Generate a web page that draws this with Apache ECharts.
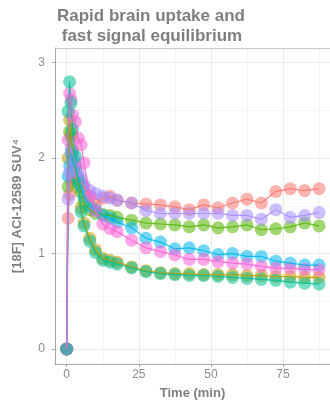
<!DOCTYPE html>
<html><head><meta charset="utf-8">
<script src="https://cdn.jsdelivr.net/npm/echarts@6/dist/echarts.min.js"></script>
<style>html,body{margin:0;padding:0;background:#fff}#c{width:330px;height:405px}</style>
</head><body><div id="c"></div>
<script>
const titleText = "Rapid brain uptake and\n fast signal equilibrium";
const xName = "Time (min)";
const yName = "[18F] ACI-12589 SUV\u2074";
const times = [0, 0.5, 1, 1.5, 2, 3, 4, 5, 6, 8, 10, 12.5, 15, 17.5, 22.5, 27.5, 32.5, 37.5, 42.5, 47.5, 52.5, 57.5, 62.5, 67.5, 72.5, 77.5, 82.5, 87.5];
const xMajorTicks = [0, 25, 50, 75];
const xMinorTicks = [12.5, 37.5, 62.5, 87.5];
const yMajorTicks = [0, 1, 2, 3];
const yMinorTicks = [0.5, 1.5, 2.5];
const seriesNames = ["s1", "s2", "s3", "s5", "s6", "s7", "s4"];
const colors = ["#F8766D", "#C49A00", "#53B400", "#00B6EB", "#A58AFF", "#FB61D7", "#00C094"];
const red    = [0, 1.37, 1.62, 1.76, 1.80, 1.79, 1.77, 1.74, 1.70, 1.60, 1.52, 1.58, 1.60, 1.56, 1.53, 1.52, 1.51, 1.49, 1.46, 1.51, 1.48, 1.53, 1.57, 1.53, 1.65, 1.68, 1.66, 1.68];
const olive  = [0, 2.00, 2.40, 2.25, 2.08, 1.88, 1.70, 1.48, 1.32, 1.16, 1.04, 0.95, 0.93, 0.91, 0.86, 0.82, 0.80, 0.79, 0.79, 0.78, 0.78, 0.78, 0.77, 0.77, 0.76, 0.76, 0.75, 0.75];
const green  = [0, 1.70, 2.28, 2.22, 2.08, 1.92, 1.78, 1.64, 1.54, 1.46, 1.42, 1.41, 1.40, 1.38, 1.35, 1.32, 1.31, 1.30, 1.28, 1.30, 1.27, 1.28, 1.30, 1.25, 1.26, 1.28, 1.32, 1.29];
const cyan   = [0, 1.81, 1.92, 2.05, 2.00, 1.90, 1.80, 1.70, 1.60, 1.50, 1.46, 1.40, 1.37, 1.33, 1.27, 1.16, 1.12, 1.05, 1.06, 1.03, 0.99, 1.00, 0.97, 0.97, 0.92, 0.90, 0.88, 0.88];
const purple = [0, 1.57, 1.85, 2.10, 2.05, 1.96, 1.87, 1.79, 1.72, 1.66, 1.63, 1.60, 1.58, 1.56, 1.53, 1.45, 1.42, 1.42, 1.42, 1.42, 1.42, 1.40, 1.40, 1.36, 1.46, 1.38, 1.40, 1.43];
const pink   = [0, 2.19, 2.68, 2.61, 2.45, 2.38, 2.21, 2.14, 1.95, 1.60, 1.45, 1.31, 1.26, 1.23, 1.14, 1.06, 1.02, 0.985, 0.94, 0.94, 0.915, 0.90, 0.89, 0.865, 0.845, 0.845, 0.835, 0.83];
const teal   = [0, 2.49, 2.80, 2.58, 2.30, 2.02, 1.74, 1.44, 1.29, 1.13, 1.01, 0.93, 0.91, 0.89, 0.85, 0.81, 0.79, 0.78, 0.77, 0.77, 0.76, 0.75, 0.74, 0.73, 0.72, 0.70, 0.69, 0.68];
const allValues = [red, olive, green, cyan, purple, pink, teal];

const chart = echarts.init(document.getElementById('c'), null, {renderer: 'canvas'});
const FONT = 'Liberation Sans, Arial, sans-serif';
const xMin = -4.06, xMax = 91.3, yMin = -0.157, yMax = 3.154;
const series = [];
allValues.forEach((vals, k) => {
  const data = times.map((t, i) => [t, vals[i]]);
  series.push({
    name: seriesNames[k], type: 'scatter', data: data, symbolSize: 13, z: 2,
    itemStyle: {color: colors[k], opacity: 0.55}, silent: true
  });
});
[0, 1, 2, 6, 3, 4, 5].forEach(k => {
  const vals = allValues[k];
  const data = times.map((t, i) => [t, vals[i]]);
  series.push({
    name: seriesNames[k] + '_l', type: 'line', data: data, showSymbol: false, z: 3,
    lineStyle: {color: colors[k], width: 1.2, opacity: 0.85}, silent: true
  });
});
chart.setOption({
  animation: false,
  backgroundColor: '#fff',
  title: {
    text: titleText, left: 52, top: 1,
    textStyle: {fontFamily: FONT, fontSize: 17, fontWeight: 'bold', color: '#7f7f7f', lineHeight: 20}
  },
  grid: {left: 55, right: 0, top: 48, bottom: 41, containLabel: false},
  xAxis: [{
    type: 'value', min: xMin, max: xMax, position: 'bottom',
    name: xName, nameLocation: 'middle', nameGap: 23,
    nameTextStyle: {fontFamily: FONT, fontSize: 13, fontWeight: 'bold', color: '#7f7f7f'},
    axisLine: {show: true, onZero: false, lineStyle: {color: '#a6a6a6', width: 1}},
    axisTick: {show: true, length: 3, customValues: xMajorTicks, lineStyle: {color: '#a6a6a6'}},
    axisLabel: {customValues: xMajorTicks, margin: 5, fontFamily: FONT, fontSize: 12, color: '#8c8c8c'},
    splitLine: {show: true, lineStyle: {color: '#ebebeb', width: 1}}
  }, {
    type: 'value', min: xMin, max: xMax, position: 'top',
    axisLine: {show: true, onZero: false, lineStyle: {color: '#c8c8c8', width: 1}},
    axisTick: {show: false, customValues: xMinorTicks},
    axisLabel: {show: false, customValues: xMinorTicks},
    splitLine: {show: true, lineStyle: {color: '#f4f4f4', width: 1}}
  }],
  yAxis: [{
    type: 'value', min: yMin, max: yMax, position: 'left',
    name: yName, nameLocation: 'middle', nameGap: 31, nameRotate: 90,
    nameTextStyle: {fontFamily: FONT, fontSize: 13, fontWeight: 'bold', color: '#7f7f7f'},
    axisLine: {show: true, onZero: false, lineStyle: {color: '#a6a6a6', width: 1}},
    axisTick: {show: true, length: 3, customValues: yMajorTicks, lineStyle: {color: '#a6a6a6'}},
    axisLabel: {customValues: yMajorTicks, margin: 10, fontFamily: FONT, fontSize: 12, color: '#8c8c8c'},
    splitLine: {show: true, lineStyle: {color: '#ebebeb', width: 1}}
  }, {
    type: 'value', min: yMin, max: yMax, position: 'right',
    axisLine: {show: false},
    axisTick: {show: false, customValues: yMinorTicks},
    axisLabel: {show: false, customValues: yMinorTicks},
    splitLine: {show: true, lineStyle: {color: '#f4f4f4', width: 1}}
  }],
  series: series
});
</script></body></html>
